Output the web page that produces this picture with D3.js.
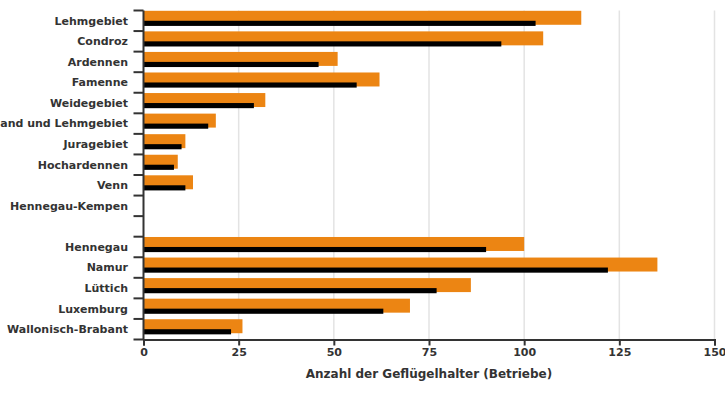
<!DOCTYPE html>
<html><head><meta charset="utf-8">
<script src="https://cdn.jsdelivr.net/npm/d3@7"></script>
<style>
body{margin:0;background:#fff;}
text{font-family:"DejaVu Sans",sans-serif;font-weight:bold;fill:#333;}
</style></head>
<body><svg id="c" width="725" height="400"></svg>
<script>
const categories = ["Lehmgebiet","Condroz","Ardennen","Famenne","Weidegebiet","Sand und Lehmgebiet","Juragebiet","Hochardennen","Venn","Hennegau-Kempen","","Hennegau","Namur","Lüttich","Luxemburg","Wallonisch-Brabant"];
const seriesA = [115,105,51,62,32,19,11,9,13,0,null,100,135,86,70,26];
const seriesB = [103,94,46,56,29,17,10,8,11,0,null,90,122,77,63,23];
const xTicks = [0,25,50,75,100,125,150];
const xTitle = "Anzahl der Geflügelhalter (Betriebe)";

const svg = d3.select("#c");
const m = {l:143.5, r:714.5, t:10.5, b:339.5};
const keys = categories.map((c,i)=>i);
const x = d3.scaleLinear().domain([0,150]).range([m.l,m.r]);
const y = d3.scaleBand().domain(keys).range([m.t,m.b]).padding(0);
const bw = y.bandwidth();

// gridlines
svg.append("g").selectAll("line").data(xTicks.slice(1)).join("line")
  .attr("x1",d=>x(d)).attr("x2",d=>x(d)).attr("y1",m.t).attr("y2",m.b)
  .attr("stroke","#e3e3e3").attr("stroke-width",1.5);

// bars
const rows = keys.map(i=>({i,a:seriesA[i],b:seriesB[i]}));
svg.append("g").selectAll("rect").data(rows.filter(r=>r.a!=null)).join("rect")
  .attr("x",x(0)).attr("y",r=>y(r.i)+0.3).attr("height",bw*0.68)
  .attr("width",r=>x(r.a)-x(0)).attr("fill","#ec8513");
svg.append("g").selectAll("rect").data(rows.filter(r=>r.b!=null)).join("rect")
  .attr("x",x(0)).attr("y",r=>y(r.i)+bw*0.5).attr("height",bw*0.25)
  .attr("width",r=>x(r.b)-x(0)).attr("fill","#000");

// x axis
const xa = svg.append("g").attr("transform",`translate(0,${m.b})`)
  .call(d3.axisBottom(x).tickValues(xTicks).tickSize(6).tickSizeOuter(6).tickPadding(3));
xa.selectAll("path,line").attr("stroke","#333").attr("stroke-width",2);
xa.selectAll("text").attr("font-size",11).attr("font-family","DejaVu Sans").attr("font-weight","bold").attr("fill","#333");

// y axis
const yg = svg.append("g");
yg.append("line").attr("x1",m.l).attr("x2",m.l).attr("y1",m.t).attr("y2",m.b)
  .attr("stroke","#333").attr("stroke-width",2);
const bounds = keys.map(i=>y(i)).concat([m.b]);
yg.selectAll("line.t").data(bounds).join("line").attr("class","t")
  .attr("x1",m.l-10).attr("x2",m.l).attr("y1",d=>d).attr("y2",d=>d)
  .attr("stroke","#333").attr("stroke-width",2);
yg.selectAll("text").data(keys).join("text")
  .attr("x",128).attr("y",i=>y(i)+bw/2).attr("dy","0.35em")
  .attr("text-anchor","end").attr("font-size",11).text(i=>categories[i]);

svg.append("text").attr("x",(m.l+m.r)/2).attr("y",378).attr("text-anchor","middle")
  .attr("font-size",12).text(xTitle);
</script></body></html>
